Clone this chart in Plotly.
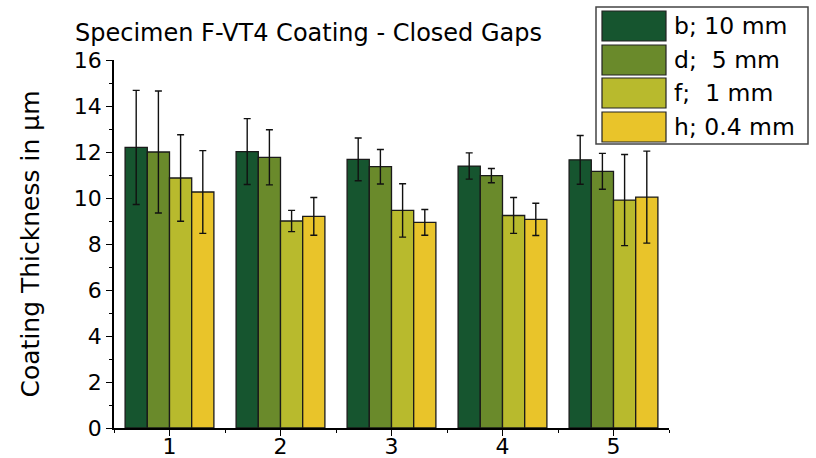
import plotly.graph_objects as go

categories = [1, 2, 3, 4, 5]
series_names = ["b; 10 mm", "d;  5 mm", "f;  1 mm", "h; 0.4 mm"]
colors = ["#16552F", "#6A8A2B", "#B8BA2D", "#E9C42A"]

vals_b = [12.2, 12.02, 11.68, 11.39, 11.66]
err_b = [2.48, 1.43, 0.93, 0.57, 1.06]
vals_d = [12.0, 11.77, 11.36, 10.97, 11.16]
err_d = [2.65, 1.2, 0.75, 0.31, 0.78]
vals_f = [10.87, 9.0, 9.46, 9.24, 9.91]
err_f = [1.88, 0.46, 1.16, 0.78, 1.98]
vals_h = [10.26, 9.2, 8.94, 9.07, 10.04]
err_h = [1.8, 0.82, 0.56, 0.7, 2.0]

values = [vals_b, vals_d, vals_f, vals_h]
errors = [err_b, err_d, err_f, err_h]

W, H = 816, 458
L, R, T, B = 114, 147, 60, 30
pw, ph = W - L - R, H - T - B

def px(x):
    return (x - L) / pw

def py(y):
    return 1 - (y - T) / ph

fig = go.Figure()
for name, v, e, c in zip(series_names, values, errors, colors):
    fig.add_trace(go.Bar(
        x=categories, y=v, name=name,
        marker=dict(color=c, line=dict(color="#1a1a1a", width=1.3)),
        error_y=dict(type="data", array=e, visible=True, color="#111111", thickness=1.4, width=3.5),
        showlegend=False,
    ))

font_main = "DejaVu Sans"
font_tick = "DejaVu Sans"

shapes = []
annotations = []
# legend box
shapes.append(dict(type="rect", xref="paper", yref="paper",
                   x0=px(596), x1=px(808), y0=py(144), y1=py(7),
                   line=dict(color="#444444", width=1.5), fillcolor="white", layer="above"))
item_tops = [11, 45, 78, 112]
for i, (name, c) in enumerate(zip(series_names, colors)):
    t = item_tops[i]
    shapes.append(dict(type="rect", xref="paper", yref="paper",
                       x0=px(602), x1=px(666), y0=py(t + 30), y1=py(t),
                       line=dict(color="#222222", width=1.2), fillcolor=c, layer="above"))
    annotations.append(dict(text=name, xref="paper", yref="paper", x=px(672), y=py(t + 15),
                            xanchor="left", yanchor="middle", showarrow=False,
                            font=dict(family=font_main, size=23.5, color="black")))

annotations.append(dict(text="Specimen F-VT4 Coating - Closed Gaps", xref="paper", yref="paper",
                        x=px(73), y=py(33), xanchor="left", yanchor="middle", showarrow=False,
                        font=dict(family=font_main, size=24, color="black")))

fig.update_layout(
    width=W, height=H,
    margin=dict(l=L, r=R, t=T, b=B, autoexpand=False),
    plot_bgcolor="white", paper_bgcolor="white",
    barmode="group", bargap=0.2, bargroupgap=0,
    shapes=shapes, annotations=annotations,
    xaxis=dict(range=[0.5, 5.5], tickvals=categories, ticktext=[str(c) for c in categories],
               showline=True, linecolor="black", linewidth=1.5, ticks="outside", ticklen=6,
               tickwidth=1.2, tickcolor="black", showgrid=False, zeroline=False,
               ticklabelstandoff=-8,
               tickfont=dict(family=font_tick, size=22, color="black"),
               minor=dict(tick0=0.5, dtick=1, ticks="outside", ticklen=3, tickcolor="black", tickwidth=1.2)),
    yaxis=dict(range=[0, 16], dtick=2, showline=True, linecolor="black", linewidth=1.5,
               ticks="outside", ticklen=6, tickwidth=1.2, tickcolor="black", showgrid=False,
               zeroline=False, tickfont=dict(family=font_tick, size=22, color="black"),
               minor=dict(dtick=1, ticks="outside", ticklen=3, tickcolor="black", tickwidth=1.2),
               title=dict(text="Coating Thickness in μm", standoff=27,
                          font=dict(family=font_main, size=25, color="black"))),
)

fig.write_html("out.html")
